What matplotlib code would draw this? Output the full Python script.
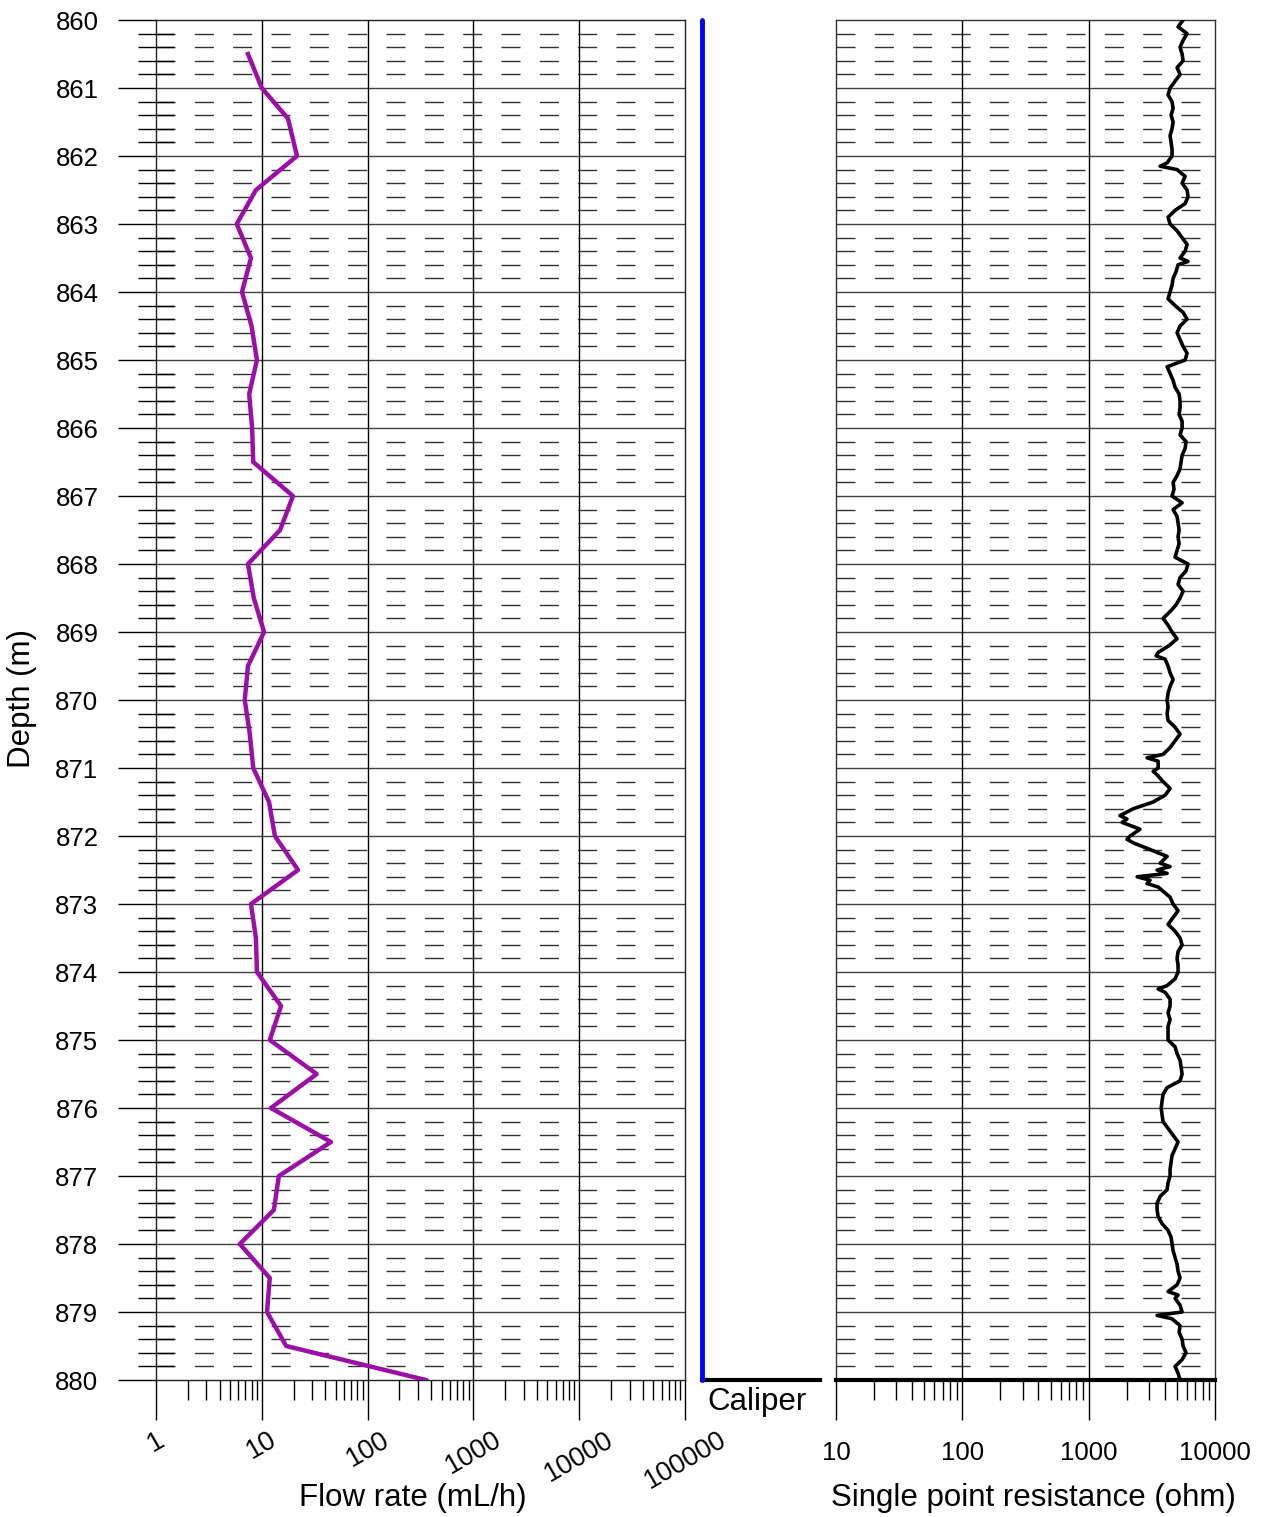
import matplotlib
matplotlib.use('Agg')
import matplotlib.pyplot as plt
from matplotlib.ticker import LogLocator, NullFormatter, FixedLocator

plt.rcParams['font.family'] = ['Liberation Sans', 'DejaVu Sans']

# ─── Flow rate log ───────────────────
flow_depth = [860.5, 861.0, 861.45, 862.0, 862.5, 863.0, 863.5, 864.0, 864.5, 865.0,
              865.5, 866.0, 866.5, 867.0, 867.5, 868.0, 868.5, 869.0, 869.5, 870.0,
              870.5, 871.0, 871.5, 872.0, 872.5, 873.0, 873.5, 874.0, 874.5, 875.0,
              875.5, 876.0, 876.5, 877.0, 877.5, 878.0, 878.5, 879.0, 879.5, 880.0]
flow_rate = [7.4, 10.0, 17.7, 21.5, 8.8, 5.8, 7.9, 6.5, 8.0, 9.0,
             7.6, 8.1, 8.3, 19.7, 14.9, 7.4, 8.4, 10.5, 7.4, 6.9,
             7.7, 8.3, 11.7, 13.3, 22.0, 7.9, 8.8, 9.0, 15.2, 11.9,
             33.0, 12.2, 45.0, 14.5, 13.0, 6.2, 11.9, 11.2, 17.0, 356.0]

# ─── Single point resistance log ─────
spr_depth = [860.0, 860.1, 860.2, 860.3, 860.4, 860.5, 860.6, 860.7, 860.8, 860.9,
             861.0, 861.1, 861.2, 861.3, 861.4, 861.5, 861.6, 861.7, 861.8, 861.9,
             862.0, 862.1, 862.15, 862.2, 862.3, 862.4, 862.5, 862.6, 862.7, 862.8, 862.9,
             863.0, 863.1, 863.2, 863.3, 863.4, 863.5, 863.55, 863.6, 863.7, 863.8, 863.9,
             864.0, 864.1, 864.2, 864.3, 864.4, 864.5, 864.6, 864.7, 864.8, 864.9,
             865.0, 865.1, 865.2, 865.3, 865.4, 865.5, 865.6, 865.7, 865.8, 865.9,
             866.0, 866.1, 866.2, 866.3, 866.4, 866.5, 866.6, 866.7, 866.8, 866.9,
             867.0, 867.1, 867.2, 867.3, 867.4, 867.5, 867.6, 867.7, 867.8, 867.9,
             868.0, 868.1, 868.2, 868.3, 868.4, 868.5, 868.6, 868.7, 868.8, 868.9,
             869.0, 869.1, 869.2, 869.3, 869.35, 869.4, 869.5, 869.6, 869.7, 869.8, 869.9,
             870.0, 870.1, 870.2, 870.3, 870.4, 870.5, 870.6, 870.7, 870.8, 870.85, 870.9,
             871.0, 871.05, 871.1, 871.2, 871.3, 871.4, 871.5, 871.6, 871.7, 871.75, 871.8, 871.9,
             872.0, 872.05, 872.1, 872.2, 872.3, 872.4, 872.45, 872.5, 872.55, 872.6, 872.65,
             872.7, 872.75, 872.8, 872.9,
             873.0, 873.1, 873.2, 873.3, 873.4, 873.5, 873.6, 873.7, 873.8, 873.9,
             874.0, 874.1, 874.2, 874.25, 874.3, 874.4, 874.5, 874.6, 874.7, 874.8, 874.9,
             875.0, 875.1, 875.2, 875.3, 875.4, 875.5, 875.6, 875.7, 875.8, 875.9,
             876.0, 876.1, 876.2, 876.3, 876.4, 876.5, 876.6, 876.7, 876.8, 876.9,
             877.0, 877.1, 877.2, 877.3, 877.4, 877.5, 877.6, 877.7, 877.8, 877.9,
             878.0, 878.1, 878.2, 878.3, 878.4, 878.5, 878.6, 878.7, 878.75, 878.8, 878.9,
             879.0, 879.05, 879.1, 879.2, 879.3, 879.4, 879.5, 879.6, 879.7, 879.8, 879.9,
             880.0]
spr_ohm = [5590, 5100, 6010, 5590, 5290, 5490, 5590, 5010, 5290, 4830,
           4410, 4250, 4570, 4660, 4490, 4660, 4570, 4410, 4490, 4570,
           4570, 4180, 3680, 5010, 5800, 5490, 6010, 6120, 5800, 4830, 4250,
           4410, 5010, 5490, 6010, 5800, 5290, 6120, 5100, 4920, 4660, 4570,
           4410, 4250, 4830, 5590, 6010, 5290, 5010, 5290, 5590, 6010,
           5800, 4180, 4410, 4660, 4830, 5200, 5290, 5290, 5200, 5490,
           5490, 5290, 5900, 5800, 5490, 5390, 5290, 5010, 4660, 4740,
           4570, 5490, 4660, 5010, 5100, 5200, 5100, 5200, 5010, 4830,
           6120, 5900, 5290, 5100, 5590, 5290, 4920, 4410, 3880, 4250,
           4570, 5010, 4330, 3550, 3420, 4030, 4250, 4410, 4660, 4410, 4250,
           4180, 4250, 4180, 4250, 4830, 5290, 4830, 4410, 3880, 2900, 3550,
           3550, 3240, 3480, 3880, 4410, 4030, 3240, 2250, 1770, 2010, 1840, 2550,
           2130, 2010, 2250, 3060, 4180, 3680, 4410, 3480, 4180, 2420, 3060,
           2900, 3550, 3810, 4410,
           4660, 5100, 4660, 4250, 4830, 5290, 5490, 5100, 5010, 5100,
           5100, 4830, 4180, 3550, 4030, 4410, 4410, 4250, 4410, 4250, 4250,
           4250, 4830, 5010, 5290, 5390, 5490, 5290, 4180, 3880, 3810,
           3750, 3810, 3880, 4250, 4660, 5100, 4830, 4570, 4490, 4410,
           4410, 4250, 4180, 3680, 3480, 3480, 3550, 3810, 4250, 4490,
           4570, 4660, 4830, 5010, 5100, 5290, 5010, 4250, 5100, 4830, 5290,
           5490, 3480, 4570, 5290, 5200, 5490, 5590, 5900, 5490, 4830, 5100,
           5290]

# ─── Caliper (flat trace) ────────────
caliper_depth = [860.0, 880.0]
caliper_value = [0.0, 0.0]

depth_ticks = list(range(860, 881))
flow_ticks = [1, 10, 100, 1000, 10000, 100000]
flow_tick_labels = ['1', '10', '100', '1000', '10000', '100000']
spr_ticks = [10, 100, 1000, 10000]
spr_tick_labels = ['10', '100', '1000', '10000']

W, H = 1263, 1517
fig = plt.figure(figsize=(W / 100, H / 100), dpi=100)


def px_axes(x0, x1, y0=20, y1=1380):
    return fig.add_axes([x0 / W, 1 - y1 / H, (x1 - x0) / W, (y1 - y0) / H])


minor_depths = [d + f for d in range(860, 880) for f in (0.2, 0.4, 0.6, 0.8)]


def draw_grid(ax, x0, x1, inner_decades):
    ax.hlines(minor_depths, x0, x1, colors='#333333', linewidth=1,
              linestyles=[(0, (13.7, 13.9))], zorder=1)
    ax.hlines(depth_ticks[1:-1], x0, x1, colors='#404040', linewidth=1, zorder=1)
    ax.vlines(inner_decades, 860, 880, colors='black', linewidth=1, zorder=1)


def log_ticks(ax, ticks, labels, rot, pad, size):
    ax.set_xticks(ticks)
    ax.set_xticklabels(labels, rotation=rot, fontsize=size)
    ax.xaxis.set_minor_locator(LogLocator(base=10, subs=range(2, 10)))
    ax.xaxis.set_minor_formatter(NullFormatter())
    ax.tick_params(axis='x', which='major', direction='out', length=28.8, width=1, pad=pad)
    ax.tick_params(axis='x', which='minor', direction='out', length=14.4, width=1)


# ─── Flow rate panel ─────────────────
ax1 = px_axes(156, 685)
ax1.set_xscale('log')
ax1.set_xlim(1, 1e5)
ax1.set_ylim(880, 860)
draw_grid(ax1, 1, 1e5, flow_ticks[1:-1])
ax1.plot(flow_rate, flow_depth, color='#9B0FA8', linewidth=3.2, zorder=3)
log_ticks(ax1, flow_ticks, flow_tick_labels, 30, 5, 19.5)
ax1.set_yticks(depth_ticks)
ax1.set_yticklabels([str(d) for d in depth_ticks], fontsize=18.5)
ax1.yaxis.set_minor_locator(FixedLocator(minor_depths))
ax1.tick_params(axis='y', which='major', direction='out', length=27.4, width=1, pad=14)
ax1.tick_params(axis='y', which='minor', direction='inout', length=26.6, width=1)
for s in ax1.spines.values():
    s.set_linewidth(1)
    s.set_color('#222222')

# ─── Caliper panel ───────────────────
ax2 = px_axes(702, 820)
ax2.set_xlim(0, 10)
ax2.set_ylim(880, 860)
ax2.plot(caliper_value, caliper_depth, color='blue', linewidth=3.5,
         solid_capstyle='round', clip_on=False, zorder=3)
for name in ('top', 'left', 'right'):
    ax2.spines[name].set_visible(False)
ax2.spines['bottom'].set_linewidth(3)
ax2.set_xticks([])
ax2.set_yticks([])

# ─── Single point resistance panel ───
ax3 = px_axes(836, 1215)
ax3.set_xscale('log')
ax3.set_xlim(10, 1e4)
ax3.set_ylim(880, 860)
draw_grid(ax3, 10, 1e4, spr_ticks[1:-1])
ax3.plot(spr_ohm, spr_depth, color='black', linewidth=2.6, zorder=3)
log_ticks(ax3, spr_ticks, spr_tick_labels, 0, 15, 18.5)
ax3.tick_params(axis='y', left=False, labelleft=False)
for s in ax3.spines.values():
    s.set_linewidth(1)
    s.set_color('#333333')
ax3.spines['bottom'].set_linewidth(3)
ax3.spines['bottom'].set_color('black')

# ─── Labels ──────────────────────────
fig.text(22 / W, 1 - 698 / H, 'Depth (m)', rotation=90, fontsize=22.5, ha='center', va='center')
fig.text(413 / W, 1 - 1498 / H, 'Flow rate (mL/h)', fontsize=22.5, ha='center', va='center')
fig.text(757 / W, 1 - 1402 / H, 'Caliper', fontsize=22.5, ha='center', va='center')
fig.text(1033 / W, 1 - 1498 / H, 'Single point resistance (ohm)', fontsize=22.5,
         ha='center', va='center')

fig.savefig('out.png', dpi=100)
